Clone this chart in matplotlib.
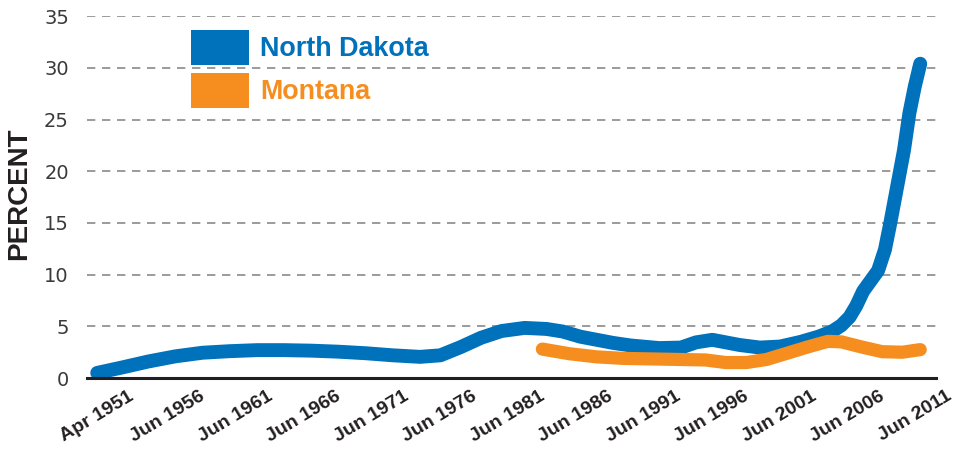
import matplotlib
matplotlib.use("Agg")
import matplotlib.pyplot as plt
from matplotlib.patches import Patch
from datetime import datetime

# decimal years and percent values
nd_years = [1951.25, 1953, 1955, 1957, 1959, 1961, 1963, 1965, 1967, 1969, 1971,
            1973, 1975, 1976.5, 1978, 1979.5, 1981, 1982.7, 1984.3, 1985.5,
            1986.8, 1988, 1989.2, 1990.5, 1992.6, 1994.2, 1995.3, 1996.5,
            1998.5, 2000, 2001.5, 2003, 2004.3, 2005.3, 2006, 2006.6, 2007.1,
            2007.6, 2008.7, 2009.2, 2009.6, 2010.1, 2010.6, 2011.0, 2011.4, 2011.8]
nd_values = [0.5, 1.0, 1.6, 2.1, 2.45, 2.6, 2.7, 2.7, 2.65, 2.55, 2.4,
             2.2, 2.05, 2.2, 3.0, 3.9, 4.55, 4.85, 4.75, 4.5,
             4.0, 3.7, 3.4, 3.15, 2.9, 2.95, 3.45, 3.7,
             3.2, 2.95, 3.05, 3.5, 4.0, 4.5, 5.1, 5.9, 7.0,
             8.4, 10.4, 12.4, 15.0, 18.5, 22.0, 25.6, 28.2, 30.4]

mt_years = [1984.0, 1986, 1988, 1990, 1992, 1994, 1996, 1997.5, 1999, 2000.5,
            2002, 2003.5, 2005, 2006, 2007.5, 2009, 2010.5, 2011.8]
mt_values = [2.8, 2.35, 2.05, 1.9, 1.85, 1.8, 1.75, 1.5, 1.5, 1.8,
             2.4, 3.0, 3.55, 3.5, 3.0, 2.55, 2.5, 2.75]

tick_labels = ["Apr 1951", "Jun 1956", "Jun 1961", "Jun 1966", "Jun 1971",
               "Jun 1976", "Jun 1981", "Jun 1986", "Jun 1991", "Jun 1996",
               "Jun 2001", "Jun 2006", "Jun 2011"]
y_ticks = [0, 5, 10, 15, 20, 25, 30, 35]

BLUE = "#0071BB"
ORANGE = "#F68E1F"

def to_year(label):
    d = datetime.strptime(label, "%b %Y")
    return d.year + (d.month - 1) / 12

fig = plt.figure(figsize=(9.69, 4.49), dpi=100)
ax = fig.add_axes([0.0898, 0.158, 0.876, 0.806])

ax.plot(nd_years, nd_values, color=BLUE, lw=10, solid_capstyle="round",
        solid_joinstyle="round", label="North Dakota", zorder=3)
ax.plot(mt_years, mt_values, color=ORANGE, lw=9.5, solid_capstyle="round",
        solid_joinstyle="round", label="Montana", zorder=4)

ax.set_xlim(1950.5, 2012.95)
ax.set_ylim(0, 35)

ax.set_yticks(y_ticks)
for y in y_ticks[1:]:
    ax.axhline(y, color="#8a8a8a", lw=1.2, ls=(0, (5, 4)), zorder=1)

ax.set_xticks([to_year(t) for t in tick_labels])
ax.set_xticklabels(tick_labels, rotation=31, ha="center",
                   fontsize=14, fontweight="bold", color="#231f20")
ax.tick_params(axis="x", length=0, pad=7)
ax.tick_params(axis="y", length=0, pad=13, labelsize=14, labelcolor="#3a3a3a")
for lab in ax.get_yticklabels():
    lab.set_family(["Liberation Sans Narrow", "DejaVu Sans"])
for lab in ax.get_xticklabels():
    lab.set_family(["Liberation Sans", "DejaVu Sans"])

for s in ["top", "right", "left"]:
    ax.spines[s].set_visible(False)
ax.spines["bottom"].set_color("#231f20")
ax.spines["bottom"].set_linewidth(2.2)
ax.spines["bottom"].set_zorder(5)

ax.set_ylabel("PERCENT", fontsize=20, fontweight="bold", color="#231f20",
              family=["Liberation Sans", "DejaVu Sans"])
ax.yaxis.set_label_coords(-0.065, 0.51)

handles = [Patch(facecolor=BLUE, edgecolor="none"),
           Patch(facecolor=ORANGE, edgecolor="none")]
leg = ax.legend(handles, ["North Dakota", "Montana"], loc="upper left",
                bbox_to_anchor=(0.1225, 0.963), frameon=False,
                prop={"family": ["Liberation Sans", "DejaVu Sans"],
                      "weight": "bold", "size": 19.4},
                handlelength=2.15, handleheight=1.62, handletextpad=0.42,
                labelspacing=0.3, borderpad=0, borderaxespad=0)
for txt, c in zip(leg.get_texts(), [BLUE, ORANGE]):
    txt.set_color(c)

fig.savefig("out.png", dpi=100)
